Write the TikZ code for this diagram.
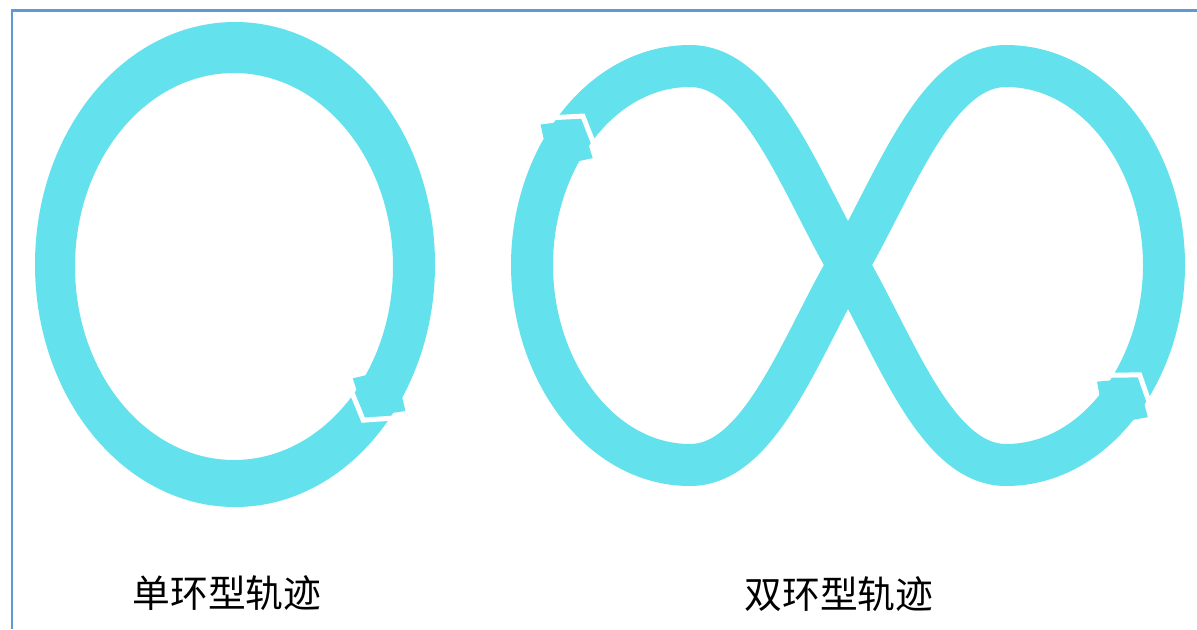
\documentclass[tikz,border=0pt]{standalone}
\usepackage{fontspec}
\newfontfamily\cjk{Noto Sans CJK SC}
\usetikzlibrary{decorations.markings}
\definecolor{band}{RGB}{99,225,236}
\definecolor{framecol}{RGB}{91,155,213}
\newcommand{\headshape}{%
  \draw[white, line width=0.1cm, line join=miter, x=0.02cm, y=0.02cm] (2,-36) -- (28,0) -- (2,36);
  \fill[band, x=0.02cm, y=0.02cm] (-12,-21) -- (-2,-31) -- (24,0) -- (-2,31) -- (-12,21) -- cycle;
}
\tikzset{
  arrowmark/.style={postaction={decorate}, decoration={markings, mark=at position #1 with {\headshape}}},
  labelfont/.style={font=\cjk\fontsize{21.5}{26}\selectfont, text=black},
  eightband/.style={band, line width=0.84cm},
  frameline/.style={framecol, line width=0.06cm}
}
\begin{document}
\begin{tikzpicture}[x=0.02cm,y=-0.02cm]
\useasboundingbox (0,0) rectangle (1197,629);
\fill[white] (0,0) rectangle (1197,629);
\draw[frameline] (1197,10) -- (12,10) -- (12,629);
% single ring
\fill[band, even odd rule] (235,264.5) ellipse [x radius=200, y radius=242.5]
  (234,266.5) ellipse [x radius=159, y radius=193.5];
\path[arrowmark=0.5] plot[domain=29:45, samples=20] ({234.5+179.5*cos(\x)},{265.5+218*sin(\x)});
% figure eight
\draw[eightband] (848,265) .. controls (800,348) and (760,465) .. (690,465)
  .. controls (600,465) and (532,370) .. (532,265)
  .. controls (532,160) and (600,66) .. (690,66)
  .. controls (760,66) and (800,182) .. (848,265)
  .. controls (896,348) and (936,465) .. (1006,465)
  .. controls (1096,465) and (1164,370) .. (1164,265)
  .. controls (1164,160) and (1096,66) .. (1006,66)
  .. controls (936,66) and (896,182) .. cycle;
\path[arrowmark=0.47] (532,265) .. controls (532,160) and (600,66) .. (690,66);
\path[arrowmark=0.5] (1006,465) .. controls (1096,465) and (1164,370) .. (1164,265);
% labels
\node[labelfont] (lab1) at (227,593) {单环型轨迹};
\node[labelfont] (lab2) at (839,594) {双环型轨迹};
\end{tikzpicture}
\end{document}
